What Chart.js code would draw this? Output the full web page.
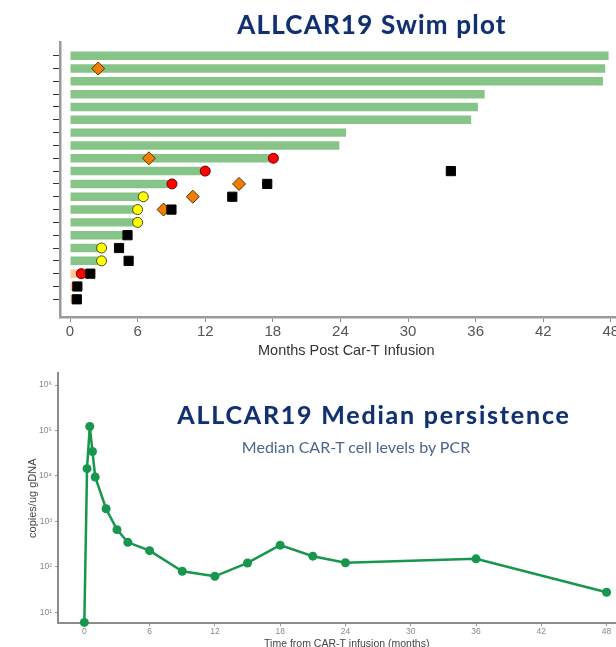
<!DOCTYPE html>
<html>
<head>
<meta charset="utf-8">
<script src="https://cdn.jsdelivr.net/npm/chart.js@4.4.1/dist/chart.umd.min.js"></script>
<style>
    html, body { margin: 0; padding: 0; background: #fff; }
    body { width: 616px; height: 647px; overflow: hidden; position: relative; }
    .panel { position: absolute; left: 0; width: 640px; }
    #swimWrap { top: 0; height: 362px; }
    #pcrWrap { top: 365px; height: 290px; }
    .title {
        position: absolute; white-space: nowrap; line-height: 1;
        font-family: Lato, "Open Sans", sans-serif; font-weight: bold;
        color: #12306e; transform: translateX(-50%);
        text-shadow: 0 0 1px rgba(90, 130, 200, 0.6);
    }
    #swimTitle { left: 372px; top: 11px; font-size: 26px; letter-spacing: 1.2px; }
    #pcrTitle { left: 374px; top: 402px; font-size: 25px; letter-spacing: 1.8px; }
    #pcrSubtitle {
        position: absolute; white-space: nowrap; line-height: 1;
        left: 356px; top: 439px; transform: translateX(-50%);
        font-family: Lato, "Open Sans", sans-serif; font-size: 16px;
        color: #4a6690;
    }
</style>
</head>
<body>
<div class="panel" id="swimWrap"><canvas id="swimChart" width="640" height="362"></canvas></div>
<div class="panel" id="pcrWrap"><canvas id="pcrChart" width="640" height="290"></canvas></div>
<div class="title" id="swimTitle">ALLCAR19 Swim plot</div>
<div class="title" id="pcrTitle">ALLCAR19 Median persistence</div>
<div id="pcrSubtitle">Median CAR-T cell levels by PCR</div>

<script>
// ---- swim plot data (one row per patient, top to bottom) ----
const rowNumbers = [1, 2, 3, 4, 5, 6, 7, 8, 9, 10, 11, 12, 13, 14, 15, 16, 17, 18, 19, 20];
const followUpMonths = [47.8, 47.5, 47.3, 36.8, 36.2, 35.6, 24.5, 23.9, 17.75, 11.8,
                        8.7, 6.2, 5.9, 5.9, 4.9, 2.65, 2.65, 0.75, 0.3, 0.3];
const rowGroup = ['main', 'main', 'main', 'main', 'main', 'main', 'main', 'main', 'main', 'main',
                  'main', 'main', 'main', 'main', 'main', 'main', 'main', 'early', 'early', 'early'];

const diamondRows = [2, 9, 11, 12, 13];
const diamondMonths = [2.5, 7.0, 15.0, 10.9, 8.3];
const redRows = [9, 10, 11, 18];
const redMonths = [18.05, 12.0, 9.05, 1.0];
const yellowRows = [12, 13, 14, 16, 17];
const yellowMonths = [6.5, 6.0, 6.0, 2.8, 2.8];
const squareRows = [10, 11, 12, 13, 15, 16, 17, 18, 19, 20];
const squareMonths = [33.8, 17.5, 14.4, 9.0, 5.1, 4.35, 5.2, 1.8, 0.65, 0.6];

const swimMonthTicks = [0, 6, 12, 18, 24, 30, 36, 42, 48];

// ---- median persistence data ----
const pcrMonths = [0, 0.25, 0.5, 0.75, 1, 2, 3, 4, 6, 9, 12, 15, 18, 21, 24, 36, 48];
const pcrCopies = [6, 14500, 123000, 34500, 9500, 1900, 660, 347, 227, 80, 62, 122, 300, 172, 123, 150, 27.6];
const pcrMonthTicks = [0, 6, 12, 18, 24, 30, 36, 42, 48];
const pcrCopyTicks = [10, 100, 1000, 10000, 100000, 1000000];

const groupColors = { main: '#86c587', early: '#fcc89b' };
const superscripts = ['⁰', '¹', '²', '³', '⁴', '⁵', '⁶', '⁷'];

function toPoints(rows, months) {
    return rows.map((r, i) => ({ x: months[i], y: r }));
}

function fixedTicks(values) {
    return scale => { scale.ticks = values.map(v => ({ value: v })); };
}

// Swim plot
new Chart(document.getElementById('swimChart'), {
    type: 'bar',
    data: {
        datasets: [
            {
                type: 'scatter', order: 1,
                data: toPoints(squareRows, squareMonths),
                pointStyle: 'rect', pointRadius: 6.5,
                backgroundColor: '#000', borderColor: '#000', borderWidth: 1
            },
            {
                type: 'scatter', order: 2,
                data: toPoints(redRows, redMonths),
                pointStyle: 'circle', pointRadius: 5,
                backgroundColor: '#ff0000', borderColor: '#6e0000', borderWidth: 1
            },
            {
                type: 'scatter', order: 3,
                data: toPoints(yellowRows, yellowMonths),
                pointStyle: 'circle', pointRadius: 5,
                backgroundColor: '#ffff00', borderColor: '#4a4a20', borderWidth: 1
            },
            {
                type: 'scatter', order: 4,
                data: toPoints(diamondRows, diamondMonths),
                pointStyle: 'rectRot', pointRadius: 6.5,
                backgroundColor: '#f07f00', borderColor: '#5a2e00', borderWidth: 1
            },
            {
                type: 'bar', order: 5, indexAxis: 'y',
                data: rowNumbers.map((r, i) => ({ x: followUpMonths[i], y: r })),
                backgroundColor: rowGroup.map(g => groupColors[g]),
                borderWidth: 0,
                categoryPercentage: 1,
                barPercentage: 0.66
            }
        ]
    },
    options: {
        responsive: false,
        animation: false,
        layout: { padding: { top: 42, left: 0, right: 0, bottom: 0 } },
        plugins: { legend: { display: false }, tooltip: { enabled: false } },
        scales: {
            x: {
                type: 'linear', offset: false, min: -0.89, max: 49.92,
                afterBuildTicks: fixedTicks(swimMonthTicks),
                afterFit: scale => { scale.height = 45; },
                grid: { drawOnChartArea: false, offset: false, tickLength: 5, color: '#888', lineWidth: 1 },
                border: { color: '#9a9a9a', width: 2.5 },
                ticks: {
                    padding: 1, color: '#555',
                    font: { family: 'Liberation Sans', size: 15 },
                    maxRotation: 0, autoSkip: false
                },
                title: {
                    display: true, text: 'Months Post Car-T Infusion', color: '#333',
                    font: { family: 'Liberation Sans', size: 14.5 },
                    padding: { top: 0, bottom: 2.5 }
                }
            },
            y: {
                type: 'linear', reverse: true, offset: false,
                min: -0.069, max: 21.38,
                afterBuildTicks: fixedTicks(rowNumbers),
                afterFit: scale => { scale.width = 60; },
                grid: { drawOnChartArea: false, offset: false, tickLength: 7, color: '#333', lineWidth: 1 },
                border: { color: '#9a9a9a', width: 2.5 },
                ticks: { display: false }
            }
        }
    }
});

// Median persistence
new Chart(document.getElementById('pcrChart'), {
    type: 'line',
    data: {
        datasets: [{
            data: pcrMonths.map((m, i) => ({ x: m, y: pcrCopies[i] })),
            borderColor: '#17964d',
            backgroundColor: '#17964d',
            borderWidth: 2.5,
            pointRadius: 4.5,
            pointBorderWidth: 0,
            tension: 0,
            clip: false
        }]
    },
    options: {
        responsive: false,
        animation: false,
        layout: { padding: { top: 8, left: 0, right: 0, bottom: 0 } },
        plugins: { legend: { display: false }, tooltip: { enabled: false } },
        scales: {
            x: {
                type: 'linear', min: -2.42, max: 50.66,
                afterBuildTicks: fixedTicks(pcrMonthTicks),
                afterFit: scale => { scale.height = 31.7; },
                grid: { drawOnChartArea: false, tickLength: 3, color: '#999', lineWidth: 1 },
                border: { color: '#8c8c8c', width: 2 },
                ticks: {
                    padding: 0.5, color: '#888',
                    font: { family: 'Liberation Sans', size: 8.5 },
                    maxRotation: 0, autoSkip: false
                },
                title: {
                    display: true, text: 'Time from CAR-T infusion (months)', color: '#444',
                    font: { family: 'Liberation Sans', size: 10.5 },
                    padding: { top: 0, bottom: 4.5 }
                }
            },
            y: {
                type: 'logarithmic', min: 5.73, max: 1837000,
                afterBuildTicks: fixedTicks(pcrCopyTicks),
                afterFit: scale => { scale.width = 58; },
                grid: { drawOnChartArea: false, tickLength: 3, color: '#999', lineWidth: 1 },
                border: { color: '#8c8c8c', width: 2 },
                ticks: {
                    padding: 3, color: '#888',
                    font: { family: 'Liberation Sans', size: 8.5 },
                    callback: v => '10' + superscripts[Math.round(Math.log10(v))]
                },
                title: {
                    display: true, text: 'copies/ug gDNA', color: '#444',
                    font: { family: 'Liberation Sans', size: 11 },
                    padding: { top: 26.4, bottom: 0 }
                }
            }
        }
    }
});
</script>
</body>
</html>
